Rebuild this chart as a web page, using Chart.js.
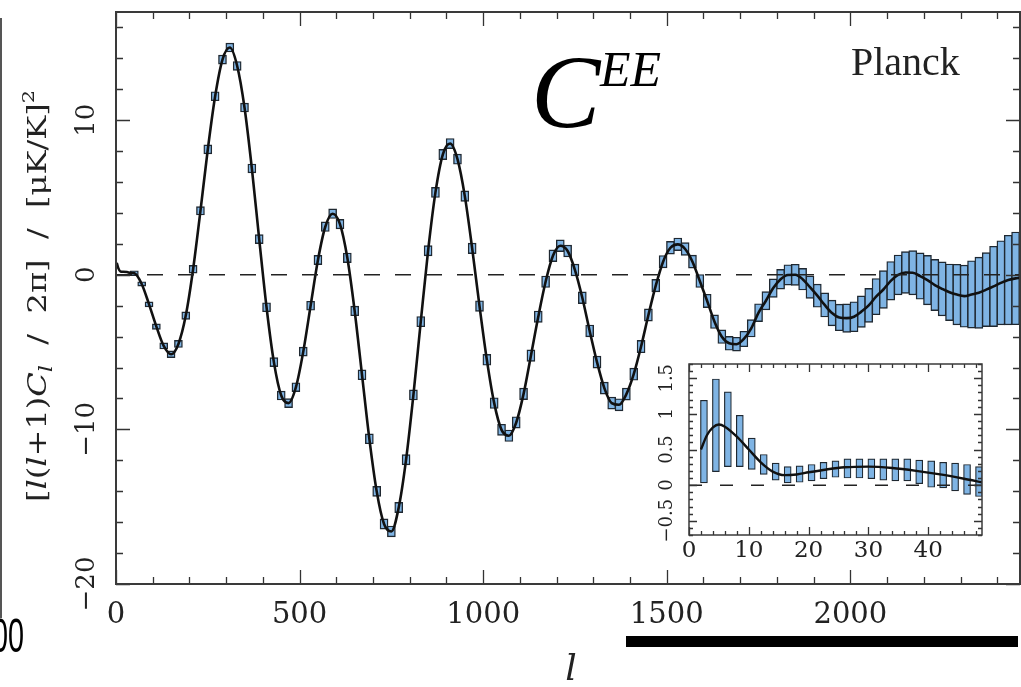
<!DOCTYPE html>
<html>
<head>
<meta charset="utf-8">
<script src="https://cdn.jsdelivr.net/npm/chart.js@4.4.1/dist/chart.umd.min.js"></script>
<style>
  html, body { margin: 0; padding: 0; background: #fff; }
  #wrap { position: relative; width: 1021px; height: 687px; overflow: hidden; }
  #mainChart { position: absolute; left: 0; top: 0; }
  #insetChart { position: absolute; left: 640px; top: 353px; }
</style>
</head>
<body>
<div id="wrap">
  <canvas id="mainChart" width="1021" height="687"></canvas>
  <canvas id="insetChart" width="381" height="212"></canvas>
</div>
<script>
// binned EE band powers (multipole bin centres, D_l in muK^2, half error)
var binL = [
  50, 70, 90, 110, 130, 150, 170, 190, 210, 230,
  250, 270, 290, 310, 330, 350, 370, 390, 410, 430,
  450, 470, 490, 510, 530, 550, 570, 590, 610, 630,
  650, 670, 690, 710, 730, 750, 770, 790, 810, 830,
  850, 870, 890, 910, 930, 950, 970, 990, 1010, 1030,
  1050, 1070, 1090, 1110, 1130, 1150, 1170, 1190, 1210, 1230,
  1250, 1270, 1290, 1310, 1330, 1350, 1370, 1390, 1410, 1430,
  1450, 1470, 1490, 1510, 1530, 1550, 1570, 1590, 1610, 1630,
  1650, 1670, 1690, 1710, 1730, 1750, 1770, 1790, 1810, 1830,
  1850, 1870, 1890, 1910, 1930, 1950, 1970, 1990, 2010, 2030,
  2050, 2070, 2090, 2110, 2130, 2150, 2170, 2190, 2210, 2230,
  2250, 2270, 2290, 2310, 2330, 2350, 2370, 2390, 2410, 2430,
  2450
];
var binDl = [
  0.10, -0.59, -1.91, -3.35, -4.60, -5.14, -4.47, -2.64, 0.36, 4.14,
  8.11, 11.55, 13.92, 14.70, 13.51, 10.82, 6.88, 2.31, -2.10, -5.65,
  -7.81, -8.30, -7.27, -4.97, -2.00, 0.96, 3.11, 3.95, 3.28, 1.10,
  -2.34, -6.47, -10.61, -14.01, -16.12, -16.60, -15.05, -11.96, -7.77, -3.03,
  1.56, 5.33, 7.78, 8.49, 7.48, 5.09, 1.71, -2.02, -5.50, -8.30,
  -10.03, -10.41, -9.55, -7.70, -5.23, -2.71, -0.45, 1.23, 1.88, 1.54,
  0.31, -1.48, -3.63, -5.65, -7.33, -8.30, -8.41, -7.72, -6.43, -4.64,
  -2.60, -0.70, 0.85, 1.75, 1.97, 1.67, 0.85, -0.40, -1.69, -3.03,
  -4.00, -4.43, -4.49, -4.15, -3.46, -2.45, -1.68, -0.86, -0.29, -0.01,
  0.00, -0.28, -0.80, -1.35, -1.95, -2.47, -2.76, -2.80, -2.71, -2.38,
  -1.98, -1.41, -0.95, -0.39, -0.01, 0.15, 0.13, -0.08, -0.34, -0.66,
  -0.91, -1.13, -1.28, -1.38, -1.27, -1.16, -0.96, -0.75, -0.52, -0.34,
  -0.23
];
var binErr = [
  0.16, 0.14, 0.16, 0.18, 0.20, 0.22, 0.23, 0.24, 0.25, 0.27,
  0.29, 0.29, 0.29, 0.29, 0.29, 0.29, 0.29, 0.29, 0.29, 0.29,
  0.29, 0.29, 0.29, 0.29, 0.29, 0.30, 0.31, 0.31, 0.31, 0.31,
  0.31, 0.32, 0.32, 0.32, 0.33, 0.35, 0.33, 0.33, 0.33, 0.33,
  0.33, 0.33, 0.33, 0.33, 0.33, 0.34, 0.34, 0.34, 0.35, 0.35,
  0.36, 0.37, 0.37, 0.37, 0.37, 0.37, 0.37, 0.38, 0.38, 0.38,
  0.38, 0.38, 0.38, 0.39, 0.39, 0.39, 0.39, 0.39, 0.39, 0.40,
  0.40, 0.40, 0.40, 0.41, 0.41, 0.41, 0.42, 0.42, 0.43, 0.44,
  0.44, 0.45, 0.45, 0.50, 0.56, 0.58, 0.59, 0.60, 0.64, 0.66,
  0.68, 0.70, 0.72, 0.75, 0.78, 0.83, 0.86, 0.92, 0.97, 1.02,
  1.10, 1.17, 1.22, 1.25, 1.29, 1.35, 1.43, 1.50, 1.60, 1.66,
  1.75, 1.83, 1.96, 2.01, 2.18, 2.30, 2.39, 2.60, 2.72, 2.90,
  3.00
];

// extra points of the model curve outside the bins (low-l start, right edge)
var curveExtraL = [2, 6, 12, 20, 30, 40, 2462];
var curveExtraDl = [0.78, 0.45, 0.22, 0.20, 0.18, 0.12, -0.20];

// inset: low-l bins, box bottoms and tops
var insetL = [2.5, 4.5, 6.5, 8.5, 10.5, 12.5, 14.5, 16.5, 18.5, 20.5, 22.5, 24.5,
              26.5, 28.5, 30.5, 32.5, 34.5, 36.5, 38.5, 40.5, 42.5, 44.5, 46.5, 48.5];
var insetLow = [0.03, 0.19, 0.26, 0.26, 0.22, 0.15, 0.07, 0.03, 0.04, 0.06, 0.09, 0.11,
                0.10, 0.10, 0.09, 0.07, 0.06, 0.06, 0.02, -0.03, -0.04, -0.08, -0.13, -0.16];
var insetHigh = [1.19, 1.49, 1.31, 0.98, 0.66, 0.43, 0.31, 0.26, 0.27, 0.29, 0.32, 0.34,
                 0.37, 0.37, 0.37, 0.37, 0.37, 0.37, 0.35, 0.34, 0.32, 0.31, 0.29, 0.26];
var insetModelL = [2, 3, 4, 5, 6, 8, 10, 12, 14, 16, 18, 20, 23, 26, 30, 34, 38, 42, 46, 49];
var insetModelDl = [0.50, 0.70, 0.81, 0.85, 0.82, 0.68, 0.50, 0.32, 0.19, 0.14, 0.15, 0.18,
                    0.22, 0.25, 0.26, 0.24, 0.20, 0.15, 0.09, 0.04];

// tick labels
var xTickLabels = [0, 500, 1000, 1500, 2000];
var yTickLabels = [10, 0, -10, -20];
var insetXTickLabels = [0, 10, 20, 30, 40];
var insetYTickLabels = [-0.5, 0, 0.5, 1, 1.5];

var boxFill = '#7fb4e4';
var boxEdge = '#1f2831';

function fmt(v) {
  return String(v).replace('-', '\u2212');
}

// frame with inward ticks on all four sides
function drawFrame(chart, xStep, xMajor, yStep, yMajor, majLen, minLen, frameW) {
  var ctx = chart.ctx, a = chart.chartArea;
  var xs = chart.scales.x, ys = chart.scales.y;
  ctx.save();
  ctx.strokeStyle = '#333';
  ctx.lineWidth = 1.3;
  ctx.beginPath();
  var i, v, p, len;
  for (i = Math.ceil(xs.min / xStep - 1e-6); i * xStep <= xs.max + 1e-6; i++) {
    v = i * xStep;
    len = Math.abs(v / xMajor - Math.round(v / xMajor)) < 1e-6 ? majLen : minLen;
    p = Math.round(xs.getPixelForValue(v)) + 0.5;
    ctx.moveTo(p, a.bottom); ctx.lineTo(p, a.bottom - len);
    ctx.moveTo(p, a.top); ctx.lineTo(p, a.top + len);
  }
  for (i = Math.ceil(ys.min / yStep - 1e-6); i * yStep <= ys.max + 1e-6; i++) {
    v = i * yStep;
    len = Math.abs(v / yMajor - Math.round(v / yMajor)) < 1e-6 ? majLen : minLen;
    p = Math.round(ys.getPixelForValue(v)) + 0.5;
    ctx.moveTo(a.left, p); ctx.lineTo(a.left + len, p);
    ctx.moveTo(a.right, p); ctx.lineTo(a.right - len, p);
  }
  ctx.stroke();
  ctx.lineWidth = frameW;
  ctx.strokeStyle = '#3a3a3a';
  ctx.strokeRect(a.left, a.top, a.right - a.left, a.bottom - a.top);
  ctx.restore();
}

function zeroLine(chart, dash) {
  var ctx = chart.ctx, a = chart.chartArea;
  var y = chart.scales.y.getPixelForValue(0);
  ctx.save();
  ctx.strokeStyle = '#222';
  ctx.lineWidth = 1.5;
  ctx.setLineDash(dash);
  ctx.beginPath();
  ctx.moveTo(a.left, y);
  ctx.lineTo(a.right, y);
  ctx.stroke();
  ctx.restore();
}

function vText(ctx, text, x, y, font) {
  ctx.save();
  ctx.translate(x, y);
  ctx.rotate(-Math.PI / 2);
  ctx.font = font;
  ctx.fillStyle = '#222';
  ctx.textAlign = 'center';
  ctx.textBaseline = 'middle';
  ctx.fillText(text, 0, 0);
  ctx.restore();
}

// rotated text built from pieces (italic, sub, sup), stretched to a length
function vRich(ctx, segs, cx, cy, targetLen) {
  ctx.save();
  ctx.translate(cx, cy);
  ctx.rotate(-Math.PI / 2);
  var total = 0;
  segs.forEach(function (s) { ctx.font = s.font; s.w = ctx.measureText(s.text).width; total += s.w; });
  ctx.scale(targetLen / total, 1);
  ctx.fillStyle = '#222';
  ctx.textAlign = 'left';
  ctx.textBaseline = 'alphabetic';
  var x = -total / 2;
  segs.forEach(function (s) { ctx.font = s.font; ctx.fillText(s.text, x, s.dy || 0); x += s.w; });
  ctx.restore();
}

var mainDecor = {
  id: 'mainDecor',
  afterDatasetsDraw: function (chart) {
    var ctx = chart.ctx;
    var xs = chart.scales.x, ys = chart.scales.y;
    zeroLine(chart, [16, 15]);
    drawFrame(chart, 100, 500, 2, 10, 14, 7, 2);

    ctx.save();
    ctx.fillStyle = '#222';
    ctx.font = '29px "DejaVu Serif"';
    ctx.textAlign = 'center';
    ctx.textBaseline = 'alphabetic';
    xTickLabels.forEach(function (v) {
      if (v <= xs.max) ctx.fillText(fmt(v), xs.getPixelForValue(v), 623);
    });
    ctx.restore();
    yTickLabels.forEach(function (v) {
      vText(ctx, fmt(v), 87, ys.getPixelForValue(v), '26px "DejaVu Serif"');
    });

    var rm = '26px "DejaVu Serif"', it = 'italic 26px "DejaVu Serif"', sm = 'italic 18px "DejaVu Serif"';
    vRich(ctx, [
      { text: '[', font: rm }, { text: 'l', font: it }, { text: '(', font: rm },
      { text: 'l', font: it }, { text: '+1)', font: rm }, { text: 'C', font: it },
      { text: 'l', font: sm, dy: 6 }, { text: '  /  2\u03c0]  /  [\u03bcK/K]', font: rm },
      { text: '2', font: '17px "DejaVu Serif"', dy: -12 }
    ], 46, 296, 412);

    ctx.save();
    ctx.fillStyle = '#222';
    ctx.textAlign = 'center';
    ctx.font = 'italic 36px "DejaVu Serif"';
    ctx.fillText('l', 571, 680);
    ctx.textAlign = 'left';
    ctx.fillStyle = '#000';
    ctx.font = 'italic 104px "Liberation Serif"';
    ctx.fillText('C', 531, 127);
    ctx.font = 'italic 50px "Liberation Serif"';
    ctx.fillText('EE', 600, 86);
    ctx.fillStyle = '#222';
    ctx.font = '40px "Liberation Serif"';
    ctx.fillText('Planck', 851, 75);

    // pieces of the neighbouring panels that the crop cut through
    ctx.fillStyle = '#000';
    ctx.fillRect(626, 636, 392, 11);
    ctx.strokeStyle = '#555';
    ctx.lineWidth = 2;
    ctx.beginPath();
    ctx.moveTo(1, 18);
    ctx.lineTo(1, 618);
    ctx.stroke();
    ctx.translate(24, 652);
    ctx.scale(0.6, 1);
    ctx.textAlign = 'right';
    ctx.font = '48px "Liberation Sans"';
    ctx.fillText('00', 0, 0);
    ctx.restore();
  }
};

var insetDecor = {
  id: 'insetDecor',
  beforeDatasetsDraw: function (chart) {
    var a = chart.chartArea, ctx = chart.ctx;
    ctx.save();
    ctx.fillStyle = '#fff';
    ctx.fillRect(a.left, a.top, a.right - a.left, a.bottom - a.top);
    ctx.restore();
  },
  afterDatasetsDraw: function (chart) {
    var ctx = chart.ctx;
    var xs = chart.scales.x, ys = chart.scales.y;
    zeroLine(chart, [13, 18]);
    drawFrame(chart, 2, 10, 0.1, 0.5, 8, 4, 1.5);
    ctx.save();
    ctx.fillStyle = '#222';
    ctx.font = '23px "DejaVu Serif"';
    ctx.textAlign = 'center';
    insetXTickLabels.forEach(function (v) {
      ctx.fillText(fmt(v), xs.getPixelForValue(v), 204);
    });
    ctx.restore();
    insetYTickLabels.forEach(function (v) {
      vText(ctx, fmt(v), 27, ys.getPixelForValue(v), '18px "DejaVu Serif"');
    });
  }
};

var curvePoints = binL.map(function (l, i) { return { x: l, y: binDl[i] }; })
  .concat(curveExtraL.map(function (l, i) { return { x: l, y: curveExtraDl[i] }; }))
  .sort(function (p, q) { return p.x - q.x; });
var boxes = binL.map(function (l, i) { return { x: l, y: [binDl[i] - binErr[i], binDl[i] + binErr[i]] }; });

new Chart(document.getElementById('mainChart'), {
  type: 'bar',
  data: {
    datasets: [
      {
        type: 'line',
        data: curvePoints,
        borderColor: '#111',
        borderWidth: 2.6,
        pointRadius: 0,
        cubicInterpolationMode: 'monotone',
        order: 0
      },
      {
        type: 'bar',
        data: boxes,
        backgroundColor: boxFill,
        borderColor: boxEdge,
        borderWidth: 1.4,
        borderSkipped: false,
        barThickness: 8,
        order: 1
      }
    ]
  },
  options: {
    responsive: false,
    animation: false,
    devicePixelRatio: 1,
    layout: { padding: { left: 116, top: 12, right: 1, bottom: 103 } },
    plugins: { legend: { display: false }, tooltip: { enabled: false } },
    scales: {
      x: { type: 'linear', min: 0, max: 2462, offset: false, display: false },
      y: { type: 'linear', min: -20, max: 17, display: false }
    }
  },
  plugins: [mainDecor]
});

new Chart(document.getElementById('insetChart'), {
  type: 'bar',
  data: {
    datasets: [
      {
        type: 'line',
        data: insetModelL.map(function (l, i) { return { x: l, y: insetModelDl[i] }; }),
        borderColor: '#111',
        borderWidth: 2.4,
        pointRadius: 0,
        cubicInterpolationMode: 'monotone',
        order: 0
      },
      {
        type: 'bar',
        data: insetL.map(function (l, i) { return { x: l, y: [insetLow[i], insetHigh[i]] }; }),
        backgroundColor: boxFill,
        borderColor: boxEdge,
        borderWidth: 1.2,
        borderSkipped: false,
        barThickness: 7,
        order: 1
      }
    ]
  },
  options: {
    responsive: false,
    animation: false,
    devicePixelRatio: 1,
    layout: { padding: { left: 49, top: 11, right: 39, bottom: 30 } },
    plugins: { legend: { display: false }, tooltip: { enabled: false } },
    scales: {
      x: { type: 'linear', min: 0, max: 49, offset: false, display: false },
      y: { type: 'linear', min: -0.7, max: 1.7, display: false }
    }
  },
  plugins: [insetDecor]
});
</script>
</body>
</html>
